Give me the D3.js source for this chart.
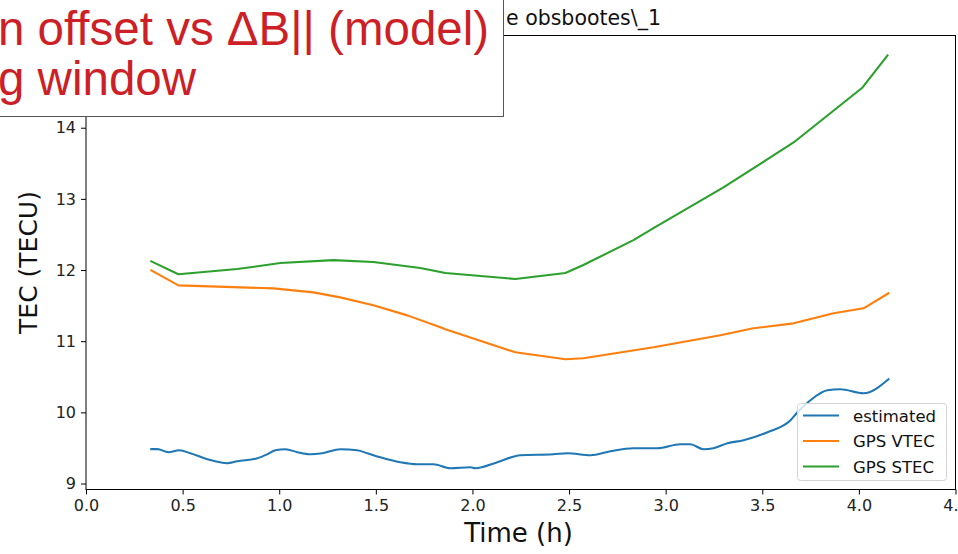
<!DOCTYPE html>
<html>
<head>
<meta charset="utf-8">
<script src="https://cdn.jsdelivr.net/npm/d3@7/dist/d3.min.js"></script>
<style>
  html, body { margin: 0; padding: 0; background: #fff; }
  svg { display: block; }
</style>
</head>
<body>
<svg id="chart" width="958" height="554"></svg>
<script>
// Time axis (hours) and TEC values (TECU) for each series
const estTime = [0.338, 0.369, 0.426, 0.483, 0.540, 0.628, 0.732, 0.783, 0.887, 0.938, 0.980, 1.032, 1.094, 1.161, 1.223, 1.316, 1.404, 1.456, 1.523, 1.627, 1.715, 1.798, 1.886, 1.989, 2.015, 2.129, 2.248, 2.419, 2.492, 2.611, 2.714, 2.833, 2.957, 3.076, 3.128, 3.196, 3.247, 3.320, 3.403, 3.527, 3.646, 3.682, 3.749, 3.837, 3.904, 4.024, 4.153];
const estimated = [9.484, 9.484, 9.440, 9.468, 9.426, 9.342, 9.285, 9.313, 9.355, 9.411, 9.468, 9.482, 9.440, 9.411, 9.426, 9.482, 9.468, 9.426, 9.369, 9.299, 9.271, 9.271, 9.215, 9.229, 9.215, 9.299, 9.398, 9.411, 9.426, 9.398, 9.454, 9.496, 9.496, 9.552, 9.552, 9.482, 9.496, 9.566, 9.608, 9.721, 9.889, 10.001, 10.170, 10.310, 10.324, 10.268, 10.465];

const vtecTime = [0.338, 0.478, 0.970, 1.177, 1.316, 1.487, 1.663, 1.834, 1.860, 2.222, 2.481, 2.574, 2.937, 3.283, 3.454, 3.662, 3.869, 4.024, 4.153];
const gpsVtec = [11.996, 11.785, 11.742, 11.686, 11.616, 11.504, 11.363, 11.195, 11.167, 10.844, 10.746, 10.760, 10.914, 11.083, 11.181, 11.251, 11.392, 11.462, 11.673];

const stecTime = [0.338, 0.478, 0.783, 1.006, 1.280, 1.487, 1.730, 1.860, 2.222, 2.481, 2.574, 2.833, 2.937, 3.299, 3.662, 4.019, 4.148];
const gpsStec = [12.122, 11.940, 12.014, 12.098, 12.140, 12.112, 12.028, 11.958, 11.874, 11.958, 12.070, 12.421, 12.590, 13.161, 13.793, 14.566, 15.015];

const xTicks = [0, 0.5, 1.0, 1.5, 2.0, 2.5, 3.0, 3.5, 4.0, 4.5];
const yTicks = [9, 10, 11, 12, 13, 14];
const seriesNames = ["estimated", "GPS VTEC", "GPS STEC"];
const seriesColors = ["#1f77b4", "#ff7f0e", "#2ca02c"];

const svg = d3.select("#chart");
const plot = { left: 86, right: 955.5, top: 35.5, bottom: 489.5 };

const x = d3.scaleLinear().domain([0, 4.5]).range([plot.left, plot.right]);
const y = d3.scaleLinear().domain([8.916, 15.296]).range([plot.bottom, plot.top]);

const font = "DejaVu Sans, sans-serif";

// Title (partly covered by the annotation box drawn later)
svg.append("text")
  .attr("x", 506).attr("y", 25)
  .attr("font-family", font).attr("font-size", 20.5)
  .attr("fill", "#111")
  .text("e obsbootes\\_1");

// Series lines
const series = [
  { t: estTime, v: estimated, curve: d3.curveMonotoneX },
  { t: vtecTime, v: gpsVtec, curve: d3.curveLinear },
  { t: stecTime, v: gpsStec, curve: d3.curveLinear }
];
series.forEach((s, i) => {
  const line = d3.line()
    .x((d, k) => x(s.t[k]))
    .y(d => y(d))
    .curve(s.curve);
  svg.append("path")
    .attr("d", line(s.v))
    .attr("fill", "none")
    .attr("stroke", seriesColors[i])
    .attr("stroke-width", 2.1)
    .attr("stroke-linejoin", "round")
    .attr("stroke-linecap", "square");
});

// Axes
const xAxis = svg.append("g")
  .attr("transform", `translate(0,${plot.bottom})`)
  .call(d3.axisBottom(x).tickValues(xTicks).tickFormat(d3.format(".1f")).tickSize(5).tickPadding(5));
const yAxis = svg.append("g")
  .attr("transform", `translate(${plot.left},0)`)
  .call(d3.axisLeft(y).tickValues(yTicks).tickFormat(d3.format("d")).tickSize(5).tickPadding(5));
[xAxis, yAxis].forEach(g => {
  g.select(".domain").remove();
  g.selectAll("line").attr("stroke", "#000").attr("stroke-width", 1);
  g.selectAll("text").attr("font-family", font).attr("font-size", 16).attr("fill", "#222");
});

// Frame
svg.append("rect")
  .attr("x", plot.left).attr("y", plot.top)
  .attr("width", plot.right - plot.left).attr("height", plot.bottom - plot.top)
  .attr("fill", "none").attr("stroke", "#000").attr("stroke-width", 1);

// Axis labels
svg.append("text")
  .attr("x", 518.5).attr("y", 542)
  .attr("text-anchor", "middle")
  .attr("font-family", font).attr("font-size", 26).attr("fill", "#111")
  .text("Time (h)");
svg.append("text")
  .attr("transform", `translate(37,${(plot.top + plot.bottom) / 2}) rotate(-90)`)
  .attr("text-anchor", "middle")
  .attr("font-family", font).attr("font-size", 25).attr("fill", "#111")
  .text("TEC (TECU)");

// Legend
const legend = svg.append("g").attr("transform", "translate(797,403)");
legend.append("rect")
  .attr("x", 0.5).attr("y", 0.5).attr("width", 149).attr("height", 77)
  .attr("rx", 3)
  .attr("fill", "rgba(255,255,255,0.8)").attr("stroke", "#d4d4d4").attr("stroke-width", 1);
seriesNames.forEach((name, i) => {
  const yy = 12.5 + i * 25.5;
  legend.append("line")
    .attr("x1", 6).attr("x2", 42).attr("y1", yy).attr("y2", yy)
    .attr("stroke", seriesColors[i]).attr("stroke-width", 2.1);
  legend.append("text")
    .attr("x", 56).attr("y", yy + 6)
    .attr("font-family", font).attr("font-size", 16.5).attr("fill", "#111")
    .text(name);
});

// Annotation box in the top-left corner
const note = svg.append("g");
note.append("rect")
  .attr("x", -10).attr("y", -10).attr("width", 513.5).attr("height", 126.5)
  .attr("fill", "#fff").attr("stroke", "#555").attr("stroke-width", 1);
const noteLines = ["n offset vs ΔB|| (model)", "g window"];
noteLines.forEach((txt, i) => {
  note.append("text")
    .attr("x", -2).attr("y", 45 + i * 50)
    .attr("font-family", "Liberation Sans, Arial, sans-serif")
    .attr("font-size", 47.5)
    .attr("fill", "#cc1f27")
    .text(txt);
});
</script>
</body>
</html>
